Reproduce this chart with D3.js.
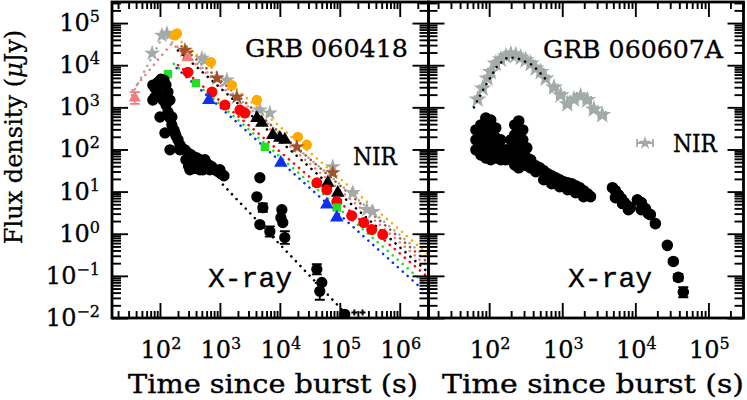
<!DOCTYPE html>
<html><head><meta charset="utf-8">
<script src="https://cdn.jsdelivr.net/npm/d3@7"></script>
<style>body{margin:0;background:#fff}svg{display:block}</style>
</head><body><svg id="c" width="747" height="400"></svg>
<script>
// ---------------- data ----------------
// GRB 060418 X-ray: [time (s), flux (uJy), optional error (dex)]
const xrayLeft = [
 [82.5,2860],[92.6,3960],[104,4670],[117,4420],[126,3370],[82.5,1750],[100,1950],[112,1490],
 [76,1490],[147,1490],[76,3370],[100,3370],
 [126,1130],[136,2300],[136,774],[147,558],[158,382],[171,291],[185,210],[200,169],[215,129],
 [100,590],[158,590],[121,247],[178,247],[147,98],[215,98],
 [233,109],[261,98],[293,83],[329,75],[369,67],[414,63],[464,57],[521,51],[584,48],[656,43],
 [271,57],[383,57],[562,57],[316,33],[464,33],[681,33],[1000,33],
 [736,39],[826,33],[927,30],[1040,26.5],[1170,23.8],[300,40],[350,38],[420,36,0.12],[520,33],
 [4640,21.3],[4140,7.5],[5210,4.16,0.1],[4640,1.65],[6810,1.13,0.12],[10800,3.73],[11200,1.84],
 [10400,2.41],[12100,0.81,0.15],[41400,0.143,0.12],[50100,0.070],[46400,0.043,0.2],[121000,0.0122]
];
const xrayLeftLimits = [[175000,0.0135],[240000,0.0135]];
const xrayLeftFit = [[1122,14.6],[121000,0.0135],[200000,0.0064]];

// GRB 060418 NIR bands
const nirOrange = [[178,51200],[192,57000],[708,11800],[1585,3370],[4140,1490],[20000,199],[28200,129]];
const nirGray   = [[74,19200],[108,51200],[131,57000],[501,14600],[562,13100],[1308,4420],[4640,863],[6810,733],[76400,38.8],[165000,9.4],[282000,3.73],[355000,3.35]];
const nirBrown  = [[261,22600],[282,19200],[891,4930],[1920,1750],[19200,115],[76400,28]];
const nirSalmon = [[38,1660,0.14],[290,15000]];
const nirBlack  = [[4140,559],[5010,426],[7640,221],[10000,188],[12100,169],[63100,16.2],[92600,9.4]];
const nirRed    = [[293,6840],[736,2300],[1212,1130],[2154,863],[2610,733],[41400,16.2],[60700,11.1],[89100,5.77],[158000,2.69],[251000,1.84],[341000,1.26],[521000,0.957]];
const nirGreen  = [[136,6130],[398,3750],[5620,115],[89100,4.16]];
const nirBlue   = [[656,1490],[10400,48],[60700,4.9],[89100,2.42]];

// fitted broken power laws (vertices)
const fitOrange = [[190,45000],[3e6,0.32]];
const fitGray   = [[34,1950],[115,52000],[3e6,0.25]];
const fitBrown  = [[230,28000],[3e6,0.2]];
const fitSalmon = [[35,2570],[158,33000],[3e6,0.16]];
const fitBlack  = [[200,22400],[3e6,0.12]];
const fitRed    = [[200,10000],[3e6,0.091]];
const fitGreen  = [[170,10800],[3e6,0.056]];
const fitBlue   = [[190,8500],[3e6,0.036]];

// GRB 060607A X-ray
const xrayRight = [
 [66,291],[66,169],[66,98],
 [77,382],[77,221],[77,129],[77,74.5],
 [90,558],[90,324],[90,188],[90,109],[90,63],
 [105,501],[105,291],[105,169],[105,98],[105,57],
 [123,324],[123,188],[123,109],[123,63],
 [144,169],[144,98],[144,57],
 [169,98],[169,57],
 [198,169],[198,98],[198,57],
 [224,382],[224,221],[224,129],[224,74.5],[224,43],
 [254,475],[254,291],[254,169],[254,98],[254,57],[254,36.7],
 [288,291],[288,169],[288,98],[288,57],
 [327,109],[327,63],[327,41],
 [370,57],[370,36.7],
 [434,41],[492,36.7],[558,31.2],[633,26.5],[717,23.8],[813,21.3],[922,19.1],
 [1045,17.1],[1185,16.2],[1343,15.4],[1523,13.8],[1726,12.4],[1958,10.5],[2220,8.9],[2437,7.6],
 [434,29.6],[558,19.1],[717,15.4],[922,13.1],[1185,11.1],[1523,9.4],[1958,7.6],
 [4865,12.4],[5345,10.5],[5870,8.4],[6450,6.8],[7090,5.5],[7790,4.6],[8560,4.16],
 [5345,7.2],[6670,5.2],[8050,3.73],
 [10660,6.4],[12090,5.5],[12090,3.73],[13710,3.94],[15100,3.0],[16050,2.84],[18800,1.74],
 [27400,0.53],[33100,0.22],[38700,0.092,0.08],[45300,0.041,0.12]
];
// GRB 060607A NIR: [time, flux, flux err (dex), time half-bin (dex)]
const nirRight = [[69.5,1545,0,0.04],[81.3,2810,0,0.04],[95,4850,0,0.04],[105.5,6950,0,0.04],[123,10960,0,0.04],
 [144.5,13640,0,0.04],[169,16330,0,0.04],[198,18200,0,0.04],[231,17220,0,0.04],[270,15200,0,0.04],
 [316,13130,0,0.04],[370,10960,0,0.04],[433,8360,0,0.04],[507,6950,0,0.04],[593,4850,0,0.04],
 [771,2970,0,0.05],[951,1950,0,0.05],[1175,1197,0,0.05],[1446,1545,0,0.05],[1783,1850,0,0.05],
 [2198,1490,0,0.05],[2705,898,0,0.05],[3524,658,0,0.05]];
const nirRightFit = [[62,1000],[85,2860],[131,10000],[180,15500],[246,14600],[398,10000],[593,4680]];

const xTicksLeft = [1e2,1e3,1e4,1e5,1e6];
const xTicksRight = [1e2,1e3,1e4,1e5];
const yTicks = [1e-2,1e-1,1e0,1e1,1e2,1e3,1e4,1e5];

// ---------------- layout ----------------
const svg = d3.select("#c");
const Y0 = 2, Y1 = 318;
const y = d3.scaleLog().domain([1e-2, 10**5.5]).range([Y1, Y0]);
const xL = d3.scaleLog().domain([10**1.2, 10**6.48]).range([112, 428.5]);
const xR = d3.scaleLog().domain([10**1.17, 10**5.48]).range([428.5, 743.5]);
const serif = "DejaVu Serif", mono = "Liberation Mono";

function logTicks(dom){
  const [a,b] = dom; const major=[], minor=[];
  for(let d=Math.floor(Math.log10(a))-1; d<=Math.ceil(Math.log10(b)); d++)
    for(let k=1;k<=9;k++){ const v=k*Math.pow(10,d); if(v>=a*0.9999 && v<=b*1.0001) (k===1?major:minor).push(v); }
  return {major, minor};
}

function drawAxes(xs){
  const [x0,x1] = xs.range();
  const xt = logTicks(xs.domain()), yt = logTicks(y.domain());
  const g = svg.append("g");
  const defs = [
    [d3.axisBottom, xs, `translate(0,${Y1})`, xt, 15, 7],
    [d3.axisTop, xs, `translate(0,${Y0})`, xt, 15, 7],
    [d3.axisLeft, y, `translate(${x0},0)`, yt, 16, 9],
    [d3.axisRight, y, `translate(${x1},0)`, yt, 16, 9]
  ];
  defs.forEach(([ax, sc, tr, t, maj, min])=>{
    [[t.major,maj],[t.minor,min]].forEach(([vals,len])=>{
      const a = g.append("g").attr("transform", tr)
        .call(ax(sc).tickValues(vals).tickSize(-len).tickFormat(""));
      a.select(".domain").remove();
      a.selectAll("line").attr("stroke","#000").attr("stroke-width",1.9);
    });
  });
  g.append("rect").attr("x",x0).attr("y",Y0).attr("width",x1-x0).attr("height",Y1-Y0)
    .attr("fill","none").attr("stroke","#000").attr("stroke-width",2.8);
}

function pow10Label(sel, v){
  const e = Math.round(Math.log10(v));
  sel.append("tspan").text("10");
  sel.append("tspan").attr("dy",-9).attr("font-size",16).text(e<0 ? "\u2212"+(-e) : e);
}

function panel(xs, id){
  const [x0,x1] = xs.range();
  svg.append("clipPath").attr("id",id).append("rect")
    .attr("x",x0).attr("y",Y0).attr("width",x1-x0).attr("height",Y1-Y0);
  return svg.append("g").attr("clip-path",`url(#${id})`);
}

const line = xs => d3.line().x(d=>xs(d[0])).y(d=>y(d[1]));
function dotted(g, xs, data, color){
  g.append("path").attr("d", line(xs)(data)).attr("fill","none").attr("stroke",color)
   .attr("stroke-width",2.6).attr("stroke-linecap","round").attr("stroke-dasharray","0.01 6.6");
}
function points(g, xs, data, color, type, size){
  const sym = d3.symbol().type(type).size(size);
  data.filter(d=>d[2]).forEach(d=>{
    const lo = y(d[1]/Math.pow(10,d[2])), hi = y(d[1]*Math.pow(10,d[2])), cx = xs(d[0]);
    g.append("path").attr("d",`M${cx},${lo}V${hi}M${cx-5},${lo}H${cx+5}M${cx-5},${hi}H${cx+5}`)
     .attr("stroke",color).attr("stroke-width",1.8).attr("fill","none");
  });
  data.filter(d=>d[3]).forEach(d=>{
    const l = xs(d[0]/Math.pow(10,d[3])), r = xs(d[0]*Math.pow(10,d[3])), cy = y(d[1]);
    g.append("path").attr("d",`M${l},${cy}H${r}M${l},${cy-4}V${cy+4}M${r},${cy-4}V${cy+4}`)
     .attr("stroke",color).attr("stroke-width",2.2).attr("fill","none");
  });
  g.selectAll(null).data(data).enter().append("path")
   .attr("d", sym).attr("fill", color)
   .attr("transform", d=>`translate(${xs(d[0])},${y(d[1])})`);
}

// colours
const cOrange="#FFAA00", cGray="#A3ABA9", cBrown="#A0522D", cSalmon="#F47C7C",
      cRed="#FF0000", cGreen="#22E022", cBlue="#1030F0";

// ---------- left panel ----------
const gl = panel(xL, "clipL");
[[fitOrange,cOrange],[fitGray,cGray],[fitBrown,cBrown],[fitSalmon,cSalmon],[fitBlack,"#000"],
 [fitRed,cRed],[fitGreen,cGreen],[fitBlue,cBlue]].forEach(([d,c])=>dotted(gl,xL,d,c));
dotted(gl, xL, xrayLeftFit, "#000");
points(gl, xL, nirGray, cGray, d3.symbolStar, 80);
points(gl, xL, nirOrange, cOrange, d3.symbolCircle, 85);
points(gl, xL, nirBrown, cBrown, d3.symbolStar, 75);
points(gl, xL, nirSalmon, cSalmon, d3.symbolTriangle, 65);
points(gl, xL, nirBlack, "#000", d3.symbolTriangle, 80);
points(gl, xL, nirRed, cRed, d3.symbolCircle, 95);
points(gl, xL, nirGreen, cGreen, d3.symbolSquare, 70);
points(gl, xL, nirBlue, cBlue, d3.symbolTriangle, 80);
points(gl, xL, xrayLeft, "#000", d3.symbolCircle, 100);
points(gl, xL, xrayLeftLimits, "#000", d3.symbolCross, 20);

// ---------- right panel ----------
const gr = panel(xR, "clipR");
points(gr, xR, nirRight, cGray, d3.symbolStar, 100);
dotted(gr, xR, nirRightFit, "#000");
points(gr, xR, xrayRight, "#000", d3.symbolCircle, 105);

drawAxes(xL);
drawAxes(xR);

// legend sample NIR (right)
const lg = svg.append("g").attr("transform","translate(645,143)");
lg.append("path").attr("d","M-8,0H8M-8,-4V4M8,-4V4").attr("stroke",cGray).attr("stroke-width",1.8);
lg.append("path").attr("d",d3.symbol().type(d3.symbolStar).size(55)).attr("fill",cGray);

// ---------- text ----------
const txt = (x,yy,s,font,size,len)=>{ const t = svg.append("text").attr("x",x).attr("y",yy).text(s)
  .attr("font-family",font).attr("font-size",size).attr("fill","#000")
  .attr("stroke","#000").attr("stroke-width",0.35);
  if(len) t.attr("textLength",len).attr("lengthAdjust","spacingAndGlyphs"); return t; };
txt(245,57,"GRB 060418",serif,25,163);
txt(353,165,"NIR",serif,25,44);
txt(208,287,"X-ray",mono,28);
txt(543,58,"GRB 060607A",serif,25,180);
txt(673,152,"NIR",serif,25,44);
txt(568,287,"X-ray",mono,28);

const tick = (x,yy,v,anchor)=>{ const t=svg.append("text").attr("x",x).attr("y",yy).attr("text-anchor",anchor)
  .attr("font-family",serif).attr("font-size",24).attr("stroke","#000").attr("stroke-width",0.3); pow10Label(t,v); };
xTicksLeft.forEach(v=>tick(xL(v)+1,358,v,"middle"));
xTicksRight.forEach(v=>tick(xR(v)+1,358,v,"middle"));
yTicks.forEach(v=>tick(100,y(v)+8,v,"end"));

txt(128,393,"Time since burst (s)",serif,26,290);
txt(442,393,"Time since burst (s)",serif,26,302);
const yt = svg.append("text").attr("transform","translate(22,137) rotate(-90)").attr("text-anchor","middle")
  .attr("font-family",serif).attr("font-size",24).attr("stroke","#000").attr("stroke-width",0.3);
yt.append("tspan").text("Flux density (");
yt.append("tspan").attr("font-style","italic").text("\u03bc");
yt.append("tspan").text("Jy)");
</script></body></html>
